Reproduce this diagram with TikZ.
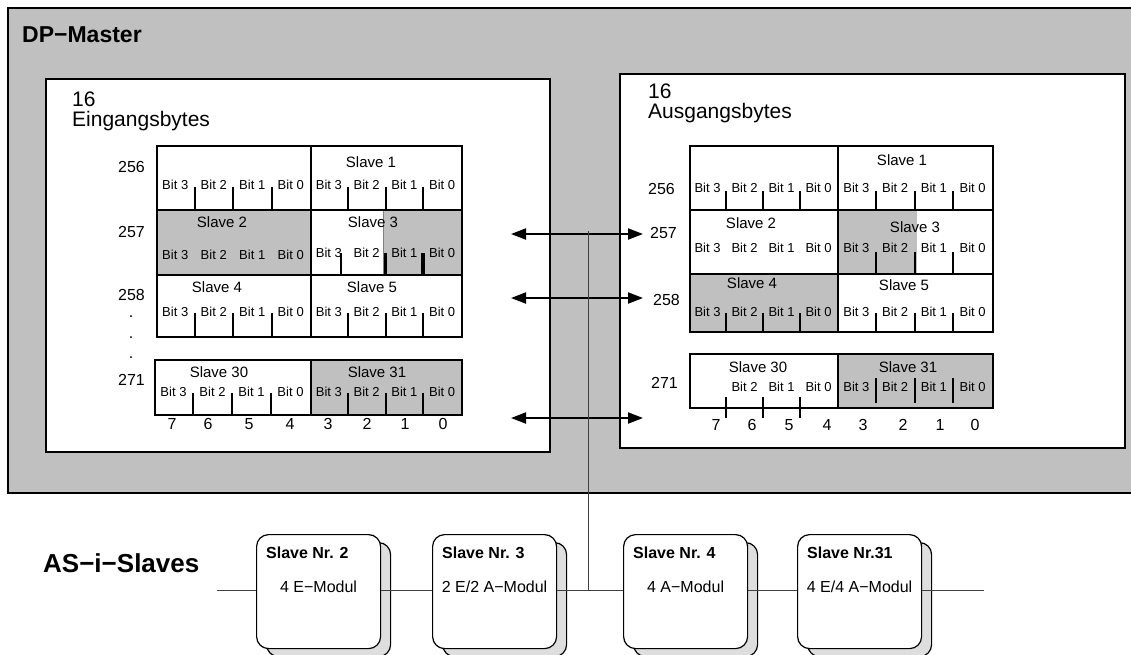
\documentclass[tikz,border=0pt]{standalone}
\usepackage{fontspec}
\setmainfont{Liberation Sans}
\usetikzlibrary{arrows.meta,positioning,calc}
\definecolor{panelgray}{RGB}{192,192,192}
\definecolor{shadegray}{RGB}{222,222,222}
\newcommand{\fsz}[1]{\fontsize{#1}{#1}\selectfont}

\begin{document}
\begin{tikzpicture}[x=1pt,y=-1pt,>={Triangle[length=15pt,width=11pt]},
 panel/.style={draw,line width=2pt,fill=white,anchor=north west,inner sep=0pt},
 half/.style={draw,line width=2pt,anchor=north west,inner sep=0pt},
 slv/.style={font=\fsz{15},inner sep=0pt},
 bit/.style={font=\fsz{13},inner sep=0pt},
 num/.style={font=\fsz{16},inner sep=0pt},
 nr/.style={font=\bfseries\fsz{16},inner sep=0pt},
 mod/.style={font=\fsz{16},inner sep=0pt},
 tick/.style={line width=2pt},
 module/.style={draw,line width=1.2pt,rounded corners=12pt,minimum width=124pt,minimum height=114pt,anchor=north west,fill=white},
 shade/.style={module,fill=shadegray},
 arr/.style={<->,line width=2pt},
 wire/.style={line width=1pt,draw=black!75}]
\useasboundingbox (0,0) rectangle (1131,654);
% master and the two byte areas
\node[panel,fill=panelgray,minimum width=1140pt,minimum height=485pt] (master) at (7,7) {};
\node[font=\bfseries\fsz{23},anchor=west,inner sep=0pt] (mtitle) at (22,35) {DP−Master};
\node[panel,minimum width=504pt,minimum height=373pt] (inpanel) at (45,78) {};
\node[panel,minimum width=505pt,minimum height=374pt] (outpanel) at (619,73) {};
\node[font=\fontsize{21}{20}\selectfont,align=left,anchor=north west,inner sep=0pt] (intitle) at (72,92) {16\\Eingangsbytes};
\node[font=\fontsize{21}{20}\selectfont,align=left,anchor=north west,inner sep=0pt] (outtitle) at (648,84) {16\\Ausgangsbytes};
% half filled cells
\fill[panelgray] (383,209) rectangle (461,274);
\draw[line width=0.8pt,black!50] (383,209) -- (383,274);
\fill[panelgray] (837,209) rectangle (917,273);
% byte cells
\foreach \n/\x/\y/\w/\h/\f in {e256l/156/145/154/64/none, e256r/310/145/151/64/none,
  e257l/156/209/154/65/panelgray, e257r/310/209/151/65/none,
  e258l/156/274/154/62/none, e258r/310/274/151/62/none,
  e271l/154/359/156/55/none, e271r/310/359/151/55/panelgray,
  a256l/689/145/148/64/none, a256r/837/145/155/64/none,
  a257l/689/209/148/64/none, a257r/837/209/155/64/none,
  a258l/689/273/148/58/panelgray, a258r/837/273/155/58/none,
  a271l/689/353/148/54/none, a271r/837/353/155/54/panelgray}
  \node[half,minimum width=\w pt,minimum height=\h pt,fill=\f] (\n) at (\x,\y) {};
% slave labels
\foreach \n/\x/\y/\t in {e256r/371/162/1, e257l/222/222/2, e257r/373/222/3, e258l/217/287/4,
  e258r/372/287/5, e271l/219/372/30, e271r/377/372/31,
  a256r/902/160/1, a257l/751/223/2, a257r/915/227/3, a258l/752/283/4,
  a258r/904/285/5, a271l/758/367/30, a271r/908/367/31}
  \node[slv] (\n-s) at (\x,\y) {Slave \t};
% bit labels
\foreach \n/\x/\w/\y in {e256l/156/154/185, e256r/310/151/185, e257l/156/154/255, e257r/310/151/253,
  e258l/156/154/312, e258r/310/151/312, e271l/154/156/392, e271r/310/151/392,
  a256l/689/148/188, a256r/837/155/188, a257l/689/148/248, a257r/837/155/248,
  a258l/689/148/312, a258r/837/155/312, a271r/837/155/387}
  \foreach \b [count=\i] in {3,2,1,0}
    \node[bit] (\n-b\b) at ({\x+\w*(2*\i-1)/8},\y) {Bit \b};
\foreach \b [count=\i from 2] in {2,1,0}
  \node[bit] (a271l-b\b) at ({689+148*(2*\i-1)/8},387) {Bit \b};
% bit ticks
\foreach \x/\w/\ya/\yb in {156/154/187/209, 310/151/187/209, 156/154/313/336, 310/151/313/336,
  154/156/393/414, 310/151/393/414, 689/148/191/209, 837/155/191/209, 837/155/252/273,
  689/148/313/331, 837/155/313/331, 689/148/397/418, 837/155/378/403}
  \foreach \i in {1,2,3}
    \draw[tick] ({\x+\w*\i/4},\ya) -- ({\x+\w*\i/4},\yb);
\draw[tick] (341,253) -- (341,274);
\draw[tick,line width=3pt] (385,253) -- (385,274);
\draw[tick,line width=3.5pt] (423,253) -- (423,274);
% byte numbers
\foreach \r/\x/\y in {256/145/167, 257/145/232, 258/145/295, 271/145/380}
  \node[num,anchor=east] (ein-r\r) at (\x,\y) {\r};
\foreach \k/\y in {1/317,2/338,3/358}
  \node[num] (dot\k) at (131,\y) {.};
\foreach \r/\x/\y in {256/675/189, 257/677/233, 258/680/300, 271/678/383}
  \node[num,anchor=east] (aus-r\r) at (\x,\y) {\r};
% bit numbers
\foreach \d/\x in {7/172,6/208,5/249,4/290,3/328,2/367,1/405,0/443}
  \node[num] (ein\d) at (\x,424) {\d};
\foreach \d/\x in {7/716,6/752,5/789,4/827,3/863,2/903,1/940,0/975}
  \node[num] (aus\d) at (\x,425) {\d};
% data exchange
\foreach \k/\y in {1/234,2/298,3/418} {
  \coordinate (pl\k) at (511,\y); \coordinate (pr\k) at (643,\y);
  \draw[arr] (pl\k) -- (pr\k);}
% AS-i line and slaves
\node[font=\bfseries\fsz{26},anchor=west,inner sep=0pt] (astitle) at (43,563) {AS−i−Slaves};
\foreach \n/\x in {2/256,3/432,4/623,31/797}
  \node[shade] (sh\n) at ({\x+10},542) {};
\coordinate (busl) at (217,590); \coordinate (busr) at (984,590); \coordinate (tap) at (588,231);
\draw[wire] (busl) -- (busr);
\draw[wire] (tap) -- (tap |- busl);
\foreach \n/\x/\t/\m in {2/256/Slave Nr. 2/4 E−Modul, 3/432/Slave Nr. 3/{2 E/2 A−Modul},
  4/623/Slave Nr. 4/4 A−Modul, 31/797/Slave Nr.31/{4 E/4 A−Modul}} {
  \node[module] (s\n) at (\x,534) {};
  \node[nr,anchor=west] (s\n-t) at ($(s\n.north west)+(10,19)$) {\t};
  \node[mod] (s\n-m) at ($(s\n.north)+(0,53)$) {\m};}
\end{tikzpicture}
\end{document}
